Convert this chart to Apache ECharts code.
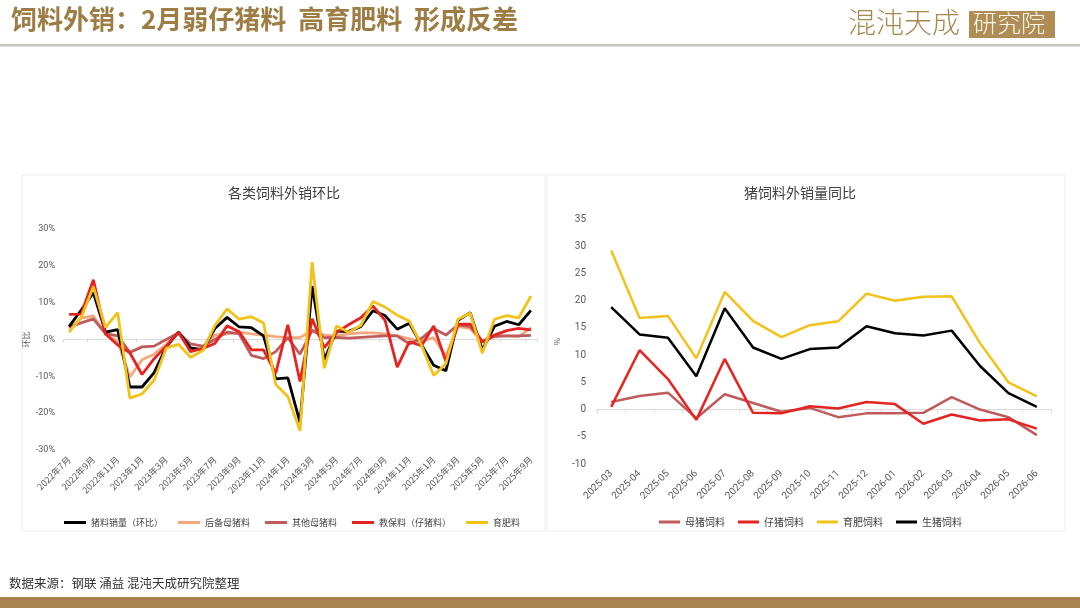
<!DOCTYPE html>
<html>
<head>
<meta charset="utf-8">
<script src="https://cdn.jsdelivr.net/npm/echarts@6/dist/echarts.min.js"></script>
<style>
html,body{margin:0;padding:0;background:#fff;}
#c{width:1080px;height:608px;}
</style>
</head>
<body>
<div id="c"></div>
<script>
// ---------- Left chart: 各类饲料外销环比 ----------
var leftMonths = ['2022年7月','2022年8月','2022年9月','2022年10月','2022年11月','2022年12月',
  '2023年1月','2023年2月','2023年3月','2023年4月','2023年5月','2023年6月','2023年7月','2023年8月','2023年9月','2023年10月','2023年11月','2023年12月',
  '2024年1月','2024年2月','2024年3月','2024年4月','2024年5月','2024年6月','2024年7月','2024年8月','2024年9月','2024年10月','2024年11月','2024年12月',
  '2025年1月','2025年2月','2025年3月','2025年4月','2025年5月','2025年6月','2025年7月','2025年8月','2025年9月'];
var pigFeedMoM = [3.5, 8.0, 12.7, 2.0, 2.7, -12.9, -12.9, -9.0, -2.0, 2.0, -2.3, -2.8, 3.0, 6.0, 3.4, 3.2, 1.0, -10.7, -10.4, -22.5, 14.5, -5.5, 2.3, 2.2, 3.5, 7.8, 6.5, 2.8, 4.4, -1.5, -7.0, -8.5, 5.2, 7.3, -2.8, 3.6, 4.9, 4.0, 7.9];
var reserveSowFeed = [3.0, 5.8, 6.4, 1.5, -0.5, -10.2, -5.5, -4.0, -1.3, 1.8, -2.7, -2.5, 1.2, 1.5, 2.0, 1.5, 1.2, 0.8, 0.5, 0.5, 2.5, 1.2, 1.0, 1.5, 1.8, 1.8, 1.5, 1.0, 0.2, -0.5, 0.5, -4.5, 3.5, 3.0, -0.8, 1.2, 1.0, 0.8, 3.2];
var otherSowFeed = [3.4, 4.5, 5.6, 1.6, 1.0, -3.5, -2.0, -1.8, 0.0, 1.8, -1.2, -1.8, 0.0, 2.0, 1.5, -4.3, -5.2, -3.3, 0.5, -4.0, 2.5, 0.5, 0.6, 0.4, 0.6, 0.8, 1.0, 1.0, -1.2, 0.3, 3.0, 1.2, 4.0, 3.5, -0.5, 0.8, 1.0, 1.0, 1.1];
var nurseryFeed = [6.8, 6.9, 16.2, 1.5, -1.5, -3.6, -9.5, -5.2, -1.8, 2.0, -3.3, -2.4, -1.1, 3.7, 2.1, -2.8, -2.8, -9.2, 4.0, -11.4, 5.6, -2.2, 1.9, 4.0, 5.9, 9.1, 5.2, -7.5, -0.6, -1.7, 3.7, -5.9, 4.2, 4.2, -0.6, 1.2, 2.4, 3.0, 2.6];
var fatteningFeed = [2.0, 6.0, 14.3, 3.3, 7.3, -15.9, -14.8, -11.0, -2.3, -1.3, -4.8, -3.0, 3.8, 8.3, 5.5, 6.2, 4.5, -12.2, -15.5, -24.8, 21.0, -7.8, 3.7, 2.0, 3.8, 10.3, 8.8, 6.6, 5.0, -1.6, -9.8, -6.6, 5.5, 7.2, -3.7, 5.5, 6.5, 5.9, 11.8];
var leftNames = ['猪料销量（环比）','后备母猪料','其他母猪料','教保料（仔猪料）','育肥料'];

// ---------- Right chart: 猪饲料外销量同比 ----------
var rightMonths = ['2025-03','2025-04','2025-05','2025-06','2025-07','2025-08','2025-09','2025-10','2025-11','2025-12','2026-01','2026-02','2026-03','2026-04','2026-05','2026-06'];
var sowFeedYoY = [1.4, 2.5, 3.1, -1.6, 2.8, 1.2, -0.4, 0.3, -1.4, -0.7, -0.7, -0.6, 2.3, 0.0, -1.4, -4.7];
var pigletFeedYoY = [0.5, 10.9, 5.6, -1.9, 9.3, -0.6, -0.7, 0.6, 0.2, 1.4, 1.0, -2.6, -0.9, -2.0, -1.8, -3.5];
var fatteningFeedYoY = [29.2, 16.8, 17.2, 9.4, 21.6, 16.3, 13.3, 15.5, 16.2, 21.3, 20.0, 20.7, 20.8, 12.2, 5.0, 2.4];
var hogFeedYoY = [18.8, 13.8, 13.2, 6.1, 18.6, 11.4, 9.3, 11.1, 11.4, 15.3, 14.0, 13.6, 14.5, 8.0, 3.0, 0.5];
var rightNames = ['母猪饲料','仔猪饲料','育肥饲料','生猪饲料'];

var FONT = '"Noto Sans CJK SC", "Noto Sans", sans-serif';
var C_BLACK = '#000000', C_LORANGE = '#F4A77A', C_MUTED = '#BF5B5B', C_RED = '#E52421', C_YELLOW = '#F2C21B';

function line(name, data, color, xi, w) {
  return {
    name: name, type: 'line', data: data, xAxisIndex: xi, yAxisIndex: xi,
    showSymbol: false, symbol: 'none', smooth: false,
    lineStyle: {color: color, width: w || 2.8}, itemStyle: {color: color},
    emphasis: {disabled: true}, z: 3
  };
}

var chart = echarts.init(document.getElementById('c'), null, {renderer: 'canvas'});
chart.setOption({
  animation: false,
  backgroundColor: '#ffffff',
  textStyle: {fontFamily: FONT},
  graphic: [
    {type: 'text', left: 11, top: 6, style: {text: '饲料外销：2月弱仔猪料  高育肥料  形成反差', fontFamily: FONT, fontWeight: 'bold', fontSize: 26, fill: '#9E7D45'}},
    {type: 'text', left: 848, top: 8, style: {text: '混沌天成', fontFamily: FONT, fontSize: 28, fontWeight: 300, fill: '#A8884F'}},
    {type: 'rect', shape: {x: 969, y: 11, width: 86, height: 27}, style: {fill: '#B08D57'}},
    {type: 'text', left: 973, top: 11, style: {text: '研究院', fontFamily: FONT, fontSize: 24, fontWeight: 300, fill: '#FFF8EC'}},
    {type: 'rect', shape: {x: 0, y: 44, width: 1080, height: 2}, style: {fill: '#C9C3B8'}},
    {type: 'rect', shape: {x: 0, y: 46, width: 1080, height: 1}, style: {fill: '#E8E4DC'}},
    {type: 'rect', z: -1, shape: {x: 22, y: 175, width: 523, height: 356}, style: {fill: '#ffffff', stroke: '#EDEDED', lineWidth: 1}},
    {type: 'rect', z: -1, shape: {x: 547, y: 175, width: 518, height: 356}, style: {fill: '#ffffff', stroke: '#EDEDED', lineWidth: 1}},
    {type: 'text', x: 284, y: 193, style: {text: '各类饲料外销环比', align: 'center', verticalAlign: 'middle', fontFamily: FONT, fontSize: 14, fill: '#404040'}},
    {type: 'text', x: 800, y: 193, style: {text: '猪饲料外销量同比', align: 'center', verticalAlign: 'middle', fontFamily: FONT, fontSize: 14, fill: '#404040'}},
    {type: 'text', left: 9, top: 577, style: {text: '数据来源：钢联 涌益 混沌天成研究院整理', fontFamily: FONT, fontSize: 12.5, fill: '#333333'}},
    {type: 'rect', shape: {x: 0, y: 597, width: 1080, height: 11}, style: {fill: '#A9834F'}}
  ],
  grid: [
    {left: 63, right: 543, top: 229, height: 221, containLabel: false},
    {left: 597, right: 29, top: 219, height: 245, containLabel: false}
  ],
  xAxis: [
    {type: 'category', gridIndex: 0, data: leftMonths, boundaryGap: true,
      axisLine: {onZero: true, lineStyle: {color: '#D9D9D9', width: 1}},
      axisTick: {show: true, alignWithLabel: false, interval: 1, length: 3, lineStyle: {color: '#D9D9D9'}},
      axisLabel: {interval: 1, rotate: 45, fontSize: 9, color: '#595959', margin: 8, fontFamily: FONT}},
    {type: 'category', gridIndex: 1, data: rightMonths, boundaryGap: true,
      axisLine: {onZero: true, lineStyle: {color: '#D9D9D9', width: 1}},
      axisTick: {show: true, length: 3, lineStyle: {color: '#D9D9D9'}},
      axisLabel: {interval: 0, rotate: 45, fontSize: 10, color: '#595959', margin: 8, fontFamily: 'Roboto, sans-serif'}}
  ],
  yAxis: [
    {type: 'value', gridIndex: 0, min: -30, max: 30, interval: 10,
      name: '环比', nameLocation: 'middle', nameGap: 33, nameRotate: 90,
      nameTextStyle: {fontSize: 8, color: '#595959', fontFamily: FONT},
      axisLine: {show: false}, axisTick: {show: false}, splitLine: {show: false},
      axisLabel: {formatter: '{value}%', fontSize: 9, color: '#595959', margin: 8, fontFamily: 'Roboto, sans-serif'}},
    {type: 'value', gridIndex: 1, min: -10, max: 35, interval: 5,
      name: '%', nameLocation: 'middle', nameGap: 36, nameRotate: 90,
      nameTextStyle: {fontSize: 8, color: '#595959'},
      axisLine: {show: false}, axisTick: {show: false}, splitLine: {show: false},
      axisLabel: {fontSize: 10, color: '#595959', margin: 11, fontFamily: 'Roboto, sans-serif'}}
  ],
  legend: [
    {data: leftNames, left: 59, top: 513, icon: 'rect', itemWidth: 22, itemHeight: 3, itemGap: 15,
      textStyle: {fontSize: 9, color: '#404040', fontFamily: FONT}},
    {data: rightNames, left: 654, top: 512, icon: 'rect', itemWidth: 21, itemHeight: 3, itemGap: 13,
      textStyle: {fontSize: 10, color: '#404040', fontFamily: FONT}}
  ],
  series: [
    line(leftNames[1], reserveSowFeed, C_LORANGE, 0),
    line(leftNames[2], otherSowFeed, C_MUTED, 0),
    line(leftNames[0], pigFeedMoM, C_BLACK, 0),
    line(leftNames[3], nurseryFeed, C_RED, 0),
    line(leftNames[4], fatteningFeed, C_YELLOW, 0),
    line(rightNames[0], sowFeedYoY, C_MUTED, 1, 2.5),
    line(rightNames[1], pigletFeedYoY, C_RED, 1, 2.5),
    line(rightNames[2], fatteningFeedYoY, C_YELLOW, 1, 2.5),
    line(rightNames[3], hogFeedYoY, C_BLACK, 1, 2.5)
  ]
});
</script>
</body>
</html>
